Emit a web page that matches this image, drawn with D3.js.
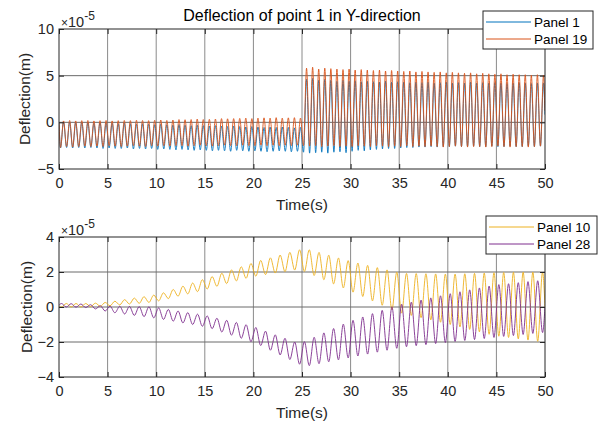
<!DOCTYPE html>
<html>
<head>
<meta charset="utf-8">
<script src="https://cdn.jsdelivr.net/npm/d3@7"></script>
<style>
  body { margin: 0; background: #fff; }
  svg { font-family: 'Liberation Sans', Arial, sans-serif; }
</style>
</head>
<body>
<svg id="chart" width="604" height="423"></svg>
<script>
// values are in units of 1e-5 m, one peak/trough pair per oscillation cycle
const timeTicks = [0, 5, 10, 15, 20, 25, 30, 35, 40, 45, 50]
const topYTicks = [-5, 0, 5, 10]
const bottomYTicks = [-4, -2, 0, 2, 4]

const topCycles = 80
const bottomCycles = 50

const panel1Peaks = [
  0.05, 0, -0.05, 0, -0.05, -0.1, -0.05, -0.1, -0.1, -0.15,
  -0.1, -0.15, -0.2, -0.15, -0.2, -0.25, -0.2, -0.25, -0.3, -0.25,
  -0.3, -0.35, -0.3, -0.35, -0.4, -0.35, -0.4, -0.45, -0.4, -0.45,
  -0.5, -0.45, -0.5, -0.55, -0.5, -0.55, -0.5, -0.55, -0.6, -0.55,
  4.6, 4.7, 4.5, 4.6, 4.5, 4.4, 4.5, 4.4, 4.45, 4.35,
  4.4, 4.35, 4.3, 4.4, 4.3, 4.35, 4.3, 4.25, 4.3, 4.25,
  4.3, 4.2, 4.25, 4.3, 4.2, 4.25, 4.2, 4.3, 4.2, 4.25,
  4.2, 4.25, 4.2, 4.15, 4.2, 4.25, 4.2, 4.15, 4.2, 4.2,
]
const panel1Troughs = [
  -2.75, -2.7, -2.75, -2.7, -2.75, -2.7, -2.75, -2.8, -2.75, -2.8,
  -2.8, -2.75, -2.85, -2.8, -2.85, -2.8, -2.9, -2.85, -2.9, -2.95,
  -2.9, -2.95, -3.0, -2.95, -3.0, -3.05, -3.0, -3.05, -3.1, -3.0,
  -3.05, -3.1, -3.05, -3.1, -3.15, -3.1, -3.05, -3.1, -3.15, -3.1,
  -3.2, -3.3, -3.25, -3.2, -3.3, -3.2, -3.15, -3.25, -3.1, -3.0,
  -3.05, -2.95, -2.9, -2.85, -2.8, -2.8, -2.75, -2.7, -2.7, -2.65,
  -2.65, -2.6, -2.65, -2.6, -2.6, -2.55, -2.6, -2.6, -2.55, -2.6,
  -2.6, -2.55, -2.6, -2.6, -2.55, -2.6, -2.6, -2.55, -2.6, -2.55,
]
const panel19Peaks = [
  0.15, 0.2, 0.15, 0.18, 0.2, 0.15, 0.18, 0.2, 0.15, 0.18,
  0.2, 0.18, 0.22, 0.2, 0.18, 0.22, 0.25, 0.2, 0.25, 0.3,
  0.28, 0.3, 0.35, 0.3, 0.32, 0.35, 0.4, 0.38, 0.4, 0.42,
  0.45, 0.4, 0.45, 0.48, 0.45, 0.5, 0.45, 0.48, 0.5, 0.45,
  5.8, 5.9, 5.7, 5.8, 5.75, 5.7, 5.65, 5.7, 5.6, 5.65,
  5.6, 5.55, 5.6, 5.5, 5.55, 5.5, 5.45, 5.5, 5.4, 5.45,
  5.4, 5.35, 5.4, 5.3, 5.35, 5.3, 5.25, 5.3, 5.2, 5.25,
  5.2, 5.15, 5.2, 5.1, 5.15, 5.1, 5.1, 5.05, 5.1, 5.05,
]
const panel19Troughs = [
  -2.7, -2.6, -2.65, -2.6, -2.55, -2.6, -2.55, -2.6, -2.5, -2.55,
  -2.6, -2.55, -2.5, -2.55, -2.6, -2.5, -2.55, -2.5, -2.55, -2.5,
  -2.5, -2.55, -2.5, -2.45, -2.5, -2.55, -2.5, -2.45, -2.5, -2.5,
  -2.45, -2.5, -2.5, -2.45, -2.5, -2.45, -2.5, -2.45, -2.5, -2.45,
  -2.5, -2.55, -2.5, -2.6, -2.55, -2.5, -2.6, -2.55, -2.6, -2.5,
  -2.55, -2.6, -2.5, -2.55, -2.6, -2.55, -2.6, -2.5, -2.6, -2.55,
  -2.6, -2.55, -2.6, -2.65, -2.6, -2.55, -2.6, -2.65, -2.6, -2.6,
  -2.65, -2.6, -2.55, -2.6, -2.65, -2.6, -2.6, -2.65, -2.6, -2.55,
]

const panel10Peaks = [
  0.20, 0.20, 0.20, 0.22, 0.26, 0.33, 0.42, 0.51, 0.59, 0.68,
  0.81, 1.00, 1.19, 1.37, 1.56, 1.74, 1.93, 2.12, 2.30, 2.49,
  2.66, 2.81, 2.97, 3.12, 3.27, 3.27, 3.12, 2.96, 2.80, 2.65,
  2.51, 2.38, 2.25, 2.12, 1.99, 1.92, 1.91, 1.90, 1.89, 1.88,
  1.88, 1.90, 1.92, 1.94, 1.96, 1.97, 1.98, 1.99, 1.99, 2.00,
]
const panel10Troughs = [
  0, 0, 0, 0.02, 0.04, 0.07, 0.12, 0.17, 0.21, 0.26,
  0.35, 0.48, 0.62, 0.75, 0.88, 1.03, 1.18, 1.34, 1.49, 1.64,
  1.76, 1.85, 1.94, 2.02, 2.11, 2.03, 1.80, 1.56, 1.32, 1.09,
  0.85, 0.60, 0.35, 0.10, -0.16, -0.35, -0.48, -0.61, -0.74, -0.87,
  -1.00, -1.14, -1.28, -1.42, -1.56, -1.67, -1.74, -1.82, -1.89, -1.96,
]
const panel28Peaks = [
  0.20, 0.19, 0.17, 0.13, 0.07, 0.05, 0.04, 0.03, 0.02, 0.01,
  -0.05, -0.14, -0.23, -0.32, -0.41, -0.51, -0.64, -0.76, -0.88, -1.01,
  -1.17, -1.38, -1.59, -1.79, -2.00, -1.98, -1.73, -1.48, -1.23, -0.98,
  -0.76, -0.57, -0.38, -0.19, 0.01, 0.16, 0.28, 0.40, 0.52, 0.64,
  0.76, 0.87, 0.98, 1.09, 1.20, 1.28, 1.33, 1.39, 1.45, 1.50,
]
const panel28Troughs = [
  0, -0.01, -0.03, -0.11, -0.23, -0.33, -0.40, -0.48, -0.55, -0.62,
  -0.71, -0.81, -0.91, -1.00, -1.10, -1.24, -1.43, -1.61, -1.79, -1.98,
  -2.20, -2.47, -2.74, -3.00, -3.27, -3.35, -3.24, -3.13, -3.02, -2.91,
  -2.80, -2.69, -2.58, -2.47, -2.36, -2.27, -2.21, -2.15, -2.09, -2.03,
  -1.97, -1.91, -1.86, -1.80, -1.74, -1.68, -1.63, -1.57, -1.51, -1.46,
]

const colors = {
  panel1: '#0072BD',
  panel19: '#D95319',
  panel10: '#EDB120',
  panel28: '#7E2F8E',
}

const svg = d3.select('#chart')

// one trough and one peak per cycle, in the order they are passed through
function toPoints(peaks, troughs, cycles, peakFirst) {
  const period = 50 / cycles
  const pts = [[0, 0.1 * (peakFirst ? 1 : 0)]]
  peaks.forEach((p, k) => {
    const a = peakFirst ? p : troughs[k]
    const b = peakFirst ? troughs[k] : p
    pts.push([(k + 0.25) * period, a])
    pts.push([(k + 0.75) * period, b])
  })
  const last = pts[pts.length - 1]
  pts.push([50, (last[1] + (peakFirst ? peaks[peaks.length - 1] : troughs[troughs.length - 1])) / 2])
  return pts
}

function drawPanel({ id, top, bottom, yDomain, yTicks, series, title, legend }) {
  const x = d3.scaleLinear().domain([0, 50]).range([59, 545])
  const y = d3.scaleLinear().domain(yDomain).range([bottom, top])
  const g = svg.append('g').attr('class', id)

  // grid
  g.append('g')
  .selectAll('line')
  .data(timeTicks.slice(1, -1))
  .enter()
  .append('line')
  .attr('x1', (d) => x(d))
  .attr('x2', (d) => x(d))
  .attr('y1', top)
  .attr('y2', bottom)
  .attr('stroke', '#8a8a8a')
  .attr('stroke-width', 1)

  g.append('g')
  .selectAll('line')
  .data(yTicks.slice(1, -1))
  .enter()
  .append('line')
  .attr('x1', 59)
  .attr('x2', 545)
  .attr('y1', (d) => y(d))
  .attr('y2', (d) => y(d))
  .attr('stroke', '#6a6a6a')
  .attr('stroke-width', 1)

  const clipId = `clip-${id}`
  svg.append('clipPath').attr('id', clipId)
  .append('rect')
  .attr('x', 59)
  .attr('y', top)
  .attr('width', 486)
  .attr('height', bottom - top)

  const line = d3.line()
  .x((d) => x(d[0]))
  .y((d) => y(d[1]))
  .curve(d3.curveMonotoneX)

  g.append('g')
  .attr('clip-path', `url(#${clipId})`)
  .selectAll('path')
  .data(series)
  .enter()
  .append('path')
  .attr('d', (s) => line(s.points))
  .attr('fill', 'none')
  .attr('stroke', (s) => s.color)
  .attr('stroke-width', 1)
  .attr('stroke-opacity', 0.9)

  // axes, ticks pointing inward like MATLAB
  const xAxis = g.append('g')
  .attr('transform', `translate(0, ${bottom})`)
  .call(d3.axisBottom(x).tickValues(timeTicks).tickSize(-5).tickPadding(9))
  g.append('g')
  .attr('transform', `translate(0, ${top})`)
  .call(d3.axisTop(x).tickValues(timeTicks).tickSize(-5).tickFormat(''))
  const yAxis = g.append('g')
  .attr('transform', 'translate(59, 0)')
  .call(d3.axisLeft(y).tickValues(yTicks).tickSize(-5).tickPadding(5))
  g.append('g')
  .attr('transform', 'translate(545, 0)')
  .call(d3.axisRight(y).tickValues(yTicks).tickSize(-5).tickFormat(''))

  g.selectAll('.domain').style('display', 'none')
  g.selectAll('.tick line').attr('stroke', '#262626')
  xAxis.selectAll('text').attr('font-size', 14.5).attr('fill', '#262626')
  yAxis.selectAll('text').attr('font-size', 14.5).attr('fill', '#262626')

  g.append('rect')
  .attr('x', 59)
  .attr('y', top)
  .attr('width', 486)
  .attr('height', bottom - top)
  .attr('fill', 'none')
  .attr('stroke', '#262626')
  .attr('stroke-width', 1)

  // exponent
  const expo = g.append('text')
  .attr('x', 61)
  .attr('y', top - 2)
  .attr('font-size', 14.5)
  .attr('fill', '#262626')
  expo.append('tspan').attr('font-size', 12).text('\u00d7')
  expo.append('tspan').text('10')
  expo.append('tspan').attr('font-size', 12).attr('dy', -7).text('-5')

  g.append('text')
  .attr('x', 302)
  .attr('y', bottom + 41)
  .attr('text-anchor', 'middle')
  .attr('font-size', 15.5)
  .attr('fill', '#262626')
  .text('Time(s)')

  g.append('text')
  .attr('transform', `translate(${id === 'top' ? 30 : 32}, ${(top + bottom) / 2}) rotate(-90)`)
  .attr('text-anchor', 'middle')
  .attr('font-size', 15.5)
  .attr('fill', '#262626')
  .text('Deflection(m)')

  if (title) {
    g.append('text')
    .attr('x', 302)
    .attr('y', 21)
    .attr('text-anchor', 'middle')
    .attr('font-size', 16)
    .attr('fill', '#000')
    .text(title)
  }

  // legend
  const lg = g.append('g')
  lg.append('rect')
  .attr('x', legend.x)
  .attr('y', legend.y)
  .attr('width', legend.w)
  .attr('height', 38)
  .attr('fill', '#fff')
  .attr('stroke', '#262626')
  .attr('stroke-width', 1)
  series.forEach((s, i) => {
    const cy = legend.y + 11 + i * 17
    lg.append('line')
    .attr('x1', legend.x + 3)
    .attr('x2', legend.x + 48)
    .attr('y1', cy)
    .attr('y2', cy)
    .attr('stroke', s.color)
    .attr('stroke-width', 1)
    lg.append('text')
    .attr('x', legend.x + 51)
    .attr('y', cy)
    .attr('dy', '0.35em')
    .attr('font-size', 13.5)
    .attr('fill', '#000')
    .text(s.name)
  })
}

drawPanel({
  id: 'top',
  top: 29,
  bottom: 169,
  yDomain: [-5, 10],
  yTicks: topYTicks,
  title: 'Deflection of point 1 in Y-direction',
  legend: { x: 483, y: 11, w: 110 },
  series: [
    { name: 'Panel 1', color: colors.panel1, points: toPoints(panel1Peaks, panel1Troughs, topCycles, false) },
    { name: 'Panel 19', color: colors.panel19, points: toPoints(panel19Peaks, panel19Troughs, topCycles, false) },
  ],
})

drawPanel({
  id: 'bottom',
  top: 237,
  bottom: 377,
  yDomain: [-4, 4],
  yTicks: bottomYTicks,
  legend: { x: 486, y: 216, w: 111 },
  series: [
    { name: 'Panel 10', color: colors.panel10, points: toPoints(panel10Peaks, panel10Troughs, bottomCycles, false) },
    { name: 'Panel 28', color: colors.panel28, points: toPoints(panel28Peaks, panel28Troughs, bottomCycles, true) },
  ],
})
</script>
</body>
</html>
